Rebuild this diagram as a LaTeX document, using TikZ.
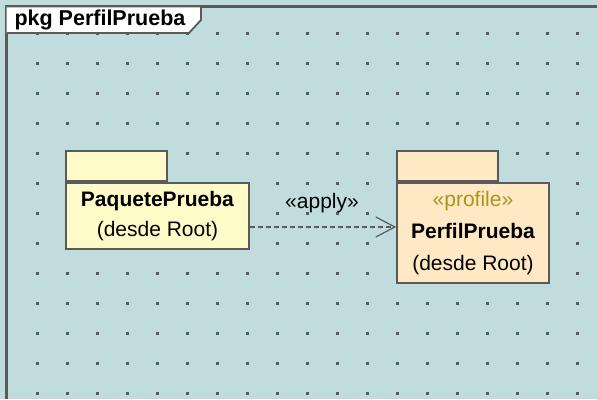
\documentclass[tikz,border=0pt]{standalone}
\usepackage{fontspec}
\setmainfont{Liberation Sans}
\usetikzlibrary{arrows.meta}

\definecolor{diagbg}{RGB}{193,220,220}
\definecolor{framegray}{RGB}{90,90,90}
\definecolor{pkgyellow}{RGB}{255,251,200}
\definecolor{pkgpeach}{RGB}{255,232,196}
\definecolor{stereo}{RGB}{168,150,30}

\tikzset{
    pkgbody/.style={draw=framegray, line width=1.8pt, inner sep=0pt, align=center,
        font=\fontsize{21}{30}\selectfont},
    pkgtab/.style={draw=framegray, line width=1.8pt, inner sep=0pt, anchor=south west,
        minimum width=101pt, minimum height=30pt},
    applyline/.style={draw=framegray, line width=1.2pt, dash pattern=on 5pt off 3pt,
        -{Straight Barb[length=19pt,width=20pt,line width=1.2pt]}}
}

\begin{document}
\begin{tikzpicture}[x=1pt,y=-1pt]

    % Background and frame
    \useasboundingbox (0,0) rectangle (597,399);
    \fill[diagbg] (0,0) rectangle (597,399);
    \foreach \gx in {37,67,...,577}
        \foreach \gy in {33,63,...,393}
            \fill[framegray] (\gx-1.5,\gy-1.5) rectangle ++(3,3);
    \draw[framegray, line width=2.5pt] (6.5,399) -- (6.5,6.5) -- (597,6.5);

    % Diagram tab
    \draw[framegray, fill=white, line width=1.8pt]
        (6.5,6.5) -- (201,6.5) -- (201,20) -- (189,33) -- (6.5,33);
    \node[anchor=west, font=\bfseries\fontsize{21.5}{25}\selectfont] (title)
        at (11,20) {pkg PerfilPrueba};

    % Packages
    \node[pkgbody, fill=pkgyellow, minimum width=183pt, minimum height=66pt] (paq)
        at (157.5,216) {\textbf{PaquetePrueba}\\(desde Root)};
    \node[pkgtab, fill=pkgyellow] (paqtab) at (paq.north west) {};

    \node[pkgbody, fill=pkgpeach, minimum width=152pt, minimum height=100pt,
        font=\fontsize{21}{32}\selectfont] (perf)
        at (473,233) {\textcolor{stereo}{«profile»}\\\textbf{PerfilPrueba}\\(desde Root)};
    \node[pkgtab, fill=pkgpeach] (perftab) at (perf.north west) {};

    % Apply dependency
    \coordinate (applyfrom) at (paq.east |- 0,227);
    \draw[applyline] (applyfrom) -- (applyfrom -| perf.west);
    \node[font=\fontsize{21}{25}\selectfont] (applylbl) at (322,203) {«apply»};

\end{tikzpicture}
\end{document}
